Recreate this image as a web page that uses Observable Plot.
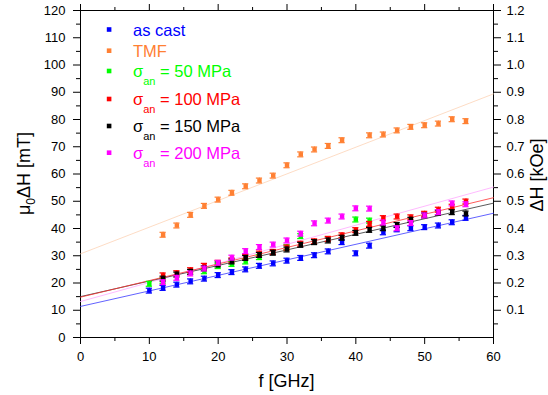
<!DOCTYPE html>
<html><head><meta charset="utf-8">
<script src="https://cdn.jsdelivr.net/npm/d3@7"></script>
<script src="https://cdn.jsdelivr.net/npm/@observablehq/plot@0.6"></script>
<style>body{margin:0;background:#fff} svg{display:block}</style>
</head><body><div id="chart"></div>
<script>
// ---- data ----
const freqs    = [10,12,14,16,18,20,22,24,26,28,30,32,34,36,38,40,42,44,46,48,50,52,54,56];
const asCast   = [17.2,18.2,19.4,20.6,21.6,22.9,24.0,25.0,26.3,27.2,28.2,29.2,30.2,31.6,35.0,30.9,33.7,38.6,39.7,40.1,40.5,41.1,42.3,43.9];
const tmf      = [null,37.7,41.1,45.0,48.3,50.6,53.1,55.5,57.6,59.4,63.2,67.2,69.0,70.3,72.4,null,74.2,74.5,76.0,77.3,77.9,78.5,80.1,79.4];
const sigma50  = [19.7,20.8,null,null,24.3,26.2,27.0,27.9,29.5,null,33.1,37.2,null,null,null,43.3,42.9,null,null,null,null,null,null,null];
const sigma100 = [null,22.8,23.6,24.7,26.3,27.4,28.3,29.6,30.8,31.4,33.0,34.4,35.3,36.2,37.5,39.4,41.7,43.8,44.4,44.1,45.4,46.9,48.0,49.9];
const sigma150 = [null,21.6,23.1,24.1,25.4,26.8,27.9,29.2,30.3,31.1,32.3,34.0,35.0,35.6,36.6,38.4,39.5,40.1,41.3,43.2,44.8,45.8,46.0,45.5];
const sigma200 = [null,20.3,21.9,23.5,25.3,27.4,29.3,31.7,33.2,34.1,35.6,38.1,41.9,42.9,44.4,47.4,47.3,42.2,40.1,42.0,44.8,46.0,49.2,48.9];

const seriesKeys   = ["asCast","tmf","s50","s100","s150","s200"];
const seriesValues = [asCast, tmf, sigma50, sigma100, sigma150, sigma200];
const legendMain   = ["as cast","TMF","σ","σ","σ","σ"];
const legendRest   = ["","","= 50 MPa","= 100 MPa","= 150 MPa","= 200 MPa"];

// linear fit lines: value at f = 0 and at f = 60 GHz
const fitKeys  = ["tmf","s200","asCast","s150","s100"];
const fitAt0   = [30.7,13.2,11.4,15.0,14.8];
const fitAt60  = [89.4,55.2,45.6,49.3,51.3];
const fitFreqs = [0,60];

const xTicks      = [0,10,20,30,40,50,60];
const xMinorTicks = [5,15,25,35,45,55];
const yTicks      = [0,10,20,30,40,50,60,70,80,90,100,110,120];
const yMinorTicks = [5,15,25,35,45,55,65,75,85,95,105,115];
const yRightTicks = [0.1,0.2,0.3,0.4,0.5,0.6,0.7,0.8,0.9,1.0,1.1,1.2];

// ---- styling ----
const colors = {asCast:"#0000ff", tmf:"#ff8033", s50:"#00ff00", s100:"#ff0000", s150:"#000000", s200:"#ff00ff"};
const fitColors = {asCast:"#3a3aff", tmf:"#fdd3b6", s100:"#ff3030", s150:"#303030", s200:"#ffa8ff"};
const err = 0.9;

const fitData = fitKeys.flatMap((k,i) => fitFreqs.map((f,j) => ({series:k, f, v: j===0 ? fitAt0[i] : fitAt60[i]})));

const marks = [];
marks.push(Plot.line(fitData, {x:"f", y:"v", z:"series", stroke: d => fitColors[d.series], strokeWidth:0.8}));
seriesKeys.forEach((k,si) => {
  const pts = freqs.map((f,i) => ({series:k, f, v: seriesValues[si][i]})).filter(d => d.v != null);
  const c = colors[k];
  marks.push(Plot.ruleX(pts, {x:"f", y1: d => d.v - err, y2: d => d.v + err, stroke:c, strokeWidth:1.2}));
  marks.push(Plot.ruleY(pts, {y: d => d.v + err, x1: d => d.f - 0.45, x2: d => d.f + 0.45, stroke:c, strokeWidth:1.2}));
  marks.push(Plot.ruleY(pts, {y: d => d.v - err, x1: d => d.f - 0.45, x2: d => d.f + 0.45, stroke:c, strokeWidth:1.2}));
  marks.push(Plot.dot(pts, {x:"f", y:"v", symbol:"square", r:2.5, fill:c, stroke:"none"}));
});

const chart = Plot.plot({
  width: 548, height: 395,
  marginLeft: 80, marginRight: 55, marginTop: 10, marginBottom: 58,
  style: {fontFamily: "'Liberation Sans', Arial, sans-serif", fontSize: "13px", color: "#000", background: "#fff"},
  x: {domain: [0,60], label: null},
  y: {domain: [0,120], label: null},
  marks: [
    Plot.frame({stroke:"#000", strokeWidth:1}),
    Plot.axisX({ticks: xTicks, tickSize: 7, tickPadding: 7, label: null, tickFormat: d => d}),
    Plot.axisX({ticks: xMinorTicks, tickSize: 4, label: null, tickFormat: () => ""}),
    Plot.axisX({anchor:"top", ticks: xTicks, tickSize: 7, label: null, tickFormat: () => ""}),
    Plot.axisX({anchor:"top", ticks: xMinorTicks, tickSize: 4, label: null, tickFormat: () => ""}),
    Plot.axisY({ticks: yTicks, tickSize: 7, tickPadding: 8, label: null, tickFormat: d => d}),
    Plot.axisY({ticks: yMinorTicks, tickSize: 4, label: null, tickFormat: () => ""}),
    Plot.axisY({anchor:"right", ticks: yRightTicks.map(t => t*100), tickSize: 7, tickPadding: 6, label: null, tickFormat: d => (d/100).toFixed(1)}),
    Plot.axisY({anchor:"right", ticks: yMinorTicks, tickSize: 4, label: null, tickFormat: () => ""}),
    ...marks
  ]
});
document.getElementById("chart").appendChild(chart);

// ---- titles and legend (real text with subscripts) ----
const svg = d3.select(chart);
const font = "'Liberation Sans', Arial, sans-serif";
// x title
svg.append("text").attr("x", 286.5).attr("y", 387).attr("text-anchor","middle")
  .attr("font-family", font).attr("font-size", 18).attr("fill","#000").text("f [GHz]");
// left y title
const lt = svg.append("text").attr("transform","translate(30,173.5) rotate(-90)").attr("text-anchor","middle")
  .attr("font-family", font).attr("font-size", 18).attr("fill","#000");
lt.append("tspan").text("μ");
lt.append("tspan").attr("font-size", 12).attr("dy", 5).text("0");
lt.append("tspan").attr("dy", -5).text("ΔH [mT]");
// right y title
svg.append("text").attr("transform","translate(543,175) rotate(-90)").attr("text-anchor","middle")
  .attr("font-family", font).attr("font-size", 18).attr("fill","#000").text("ΔH [kOe]");

// legend
const legendY = [29.5, 50.7, 71, 99, 126, 152.7];
const lg = svg.append("g").attr("text-anchor","start");
seriesKeys.forEach((k,i) => {
  const c = colors[k];
  lg.append("rect").attr("x", 106.8).attr("y", legendY[i]-2.3).attr("width", 4.6).attr("height", 4.6).attr("fill", c);
  const t = lg.append("text").attr("x", 133).attr("y", legendY[i]+6).attr("text-anchor","start")
    .attr("font-family", font).attr("font-size", 16.5).attr("fill", c);
  t.append("tspan").text(legendMain[i]);
  if (legendRest[i]) {
    t.append("tspan").attr("font-size", 11).attr("dy", 8).text("an");
    t.append("tspan").attr("dy", -8).text(" " + legendRest[i]);
  }
});
</script>
</body></html>
